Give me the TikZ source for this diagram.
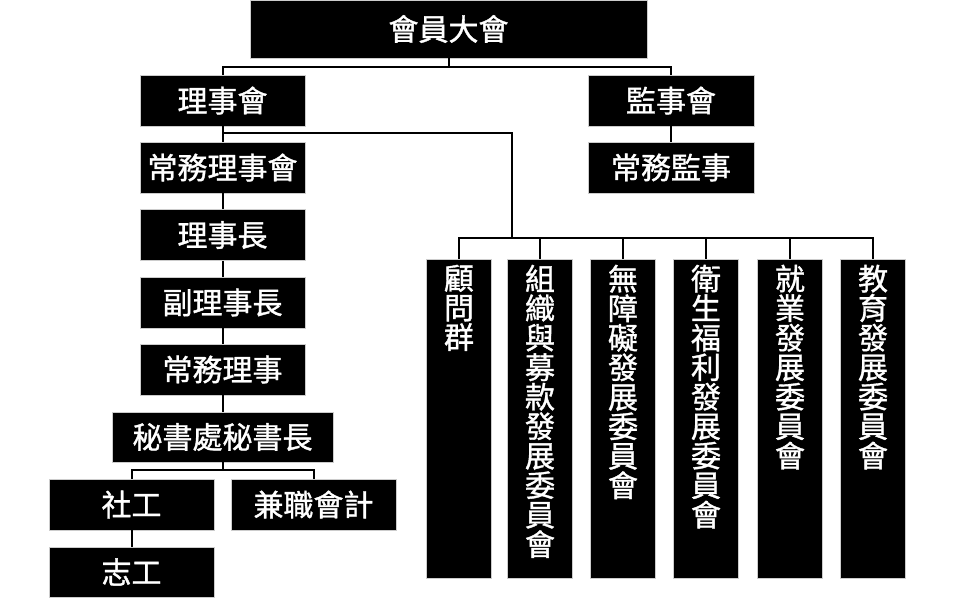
\documentclass[tikz,border=0pt]{standalone}
\usepackage{fontspec}
\setmainfont{Noto Sans CJK TC}[FakeBold=1.2]
\begin{document}
\begin{tikzpicture}[x=1pt,y=-1pt,
  box/.style={fill=black,draw=black!20,line width=0.8pt,text=white,inner sep=0pt,
    font=\fontsize{30}{33}\selectfont,minimum width=165pt,minimum height=51pt},
  colbox/.style={fill=black,draw=black!20,line width=0.8pt,inner sep=0pt,minimum width=65pt,minimum height=319pt},
  coltext/.style={text=white,inner sep=0pt,align=center,font=\fontsize{30}{29.5}\selectfont,anchor=north},
  conn/.style={line width=2pt,black}]
\useasboundingbox (0,0) rectangle (960,600);
\node[box,minimum width=397pt,minimum height=58pt] (gm) at (448.5,29) {會員大會};
\node[box] (bod) at (222.5,100.5) {理事會};
\node[box,minimum width=166pt] (sup) at (671,100.5) {監事會};
\node[box,minimum width=166pt] (ssup) at (671,167.5) {常務監事};
\node[box] (sbod) at (222.5,167.5) {常務理事會};
\node[box] (chair) at (222.5,235) {理事長};
\node[box] (vchair) at (222.5,302.5) {副理事長};
\node[box] (sdir) at (222.5,369.5) {常務理事};
\node[box,minimum width=221pt,minimum height=50pt] (sec) at (222.5,437) {秘書處秘書長};
\node[box] (sw) at (131.5,504.5) {社工};
\node[box] (acc) at (313.5,504.5) {兼職會計};
\node[box,minimum height=50pt] (vol) at (131.5,572) {志工};
\foreach \i/\x/\t in {1/459/{顧\\問\\群},2/540/{組\\織\\與\\募\\款\\發\\展\\委\\員\\會},3/623/{無\\障\\礙\\發\\展\\委\\員\\會},4/706/{衛\\生\\福\\利\\發\\展\\委\\員\\會},5/790/{就\\業\\發\\展\\委\\員\\會},6/873/{教\\育\\發\\展\\委\\員\\會}}{
  \node[colbox] (c\i) at (\x,418.5) {};
  \node[coltext] (t\i) at ([yshift=-6pt]c\i.north) {\t};
}
% connectors
\coordinate (j1) at (448.5,67);
\draw[conn] (gm.south) -- (j1);
\draw[conn] (bod.north) |- (j1) -| (sup.north);
\draw[conn] (sup) -- (ssup);
\coordinate (j2) at (222.5,133);
\coordinate (j3) at (512,238);
\draw[conn] (bod) -- (sbod);
\draw[conn] (j2) -| (j3);
\draw[conn] (c1.north) -- (c1.north |- j3) -- (c6.north |- j3) -- (c6.north);
\foreach \i in {2,3,4,5}{\draw[conn] (c\i.north) -- (c\i.north |- j3);}
\draw[conn] (sbod) -- (chair);
\draw[conn] (chair) -- (vchair);
\draw[conn] (vchair) -- (sdir);
\draw[conn] (sdir) -- (sec);
\coordinate (j4) at (222.5,470);
\draw[conn] (sec.south) -- (j4);
\draw[conn] (sw.north) |- (j4) -| (acc.north);
\draw[conn] (sw) -- (vol);
\end{tikzpicture}
\end{document}
